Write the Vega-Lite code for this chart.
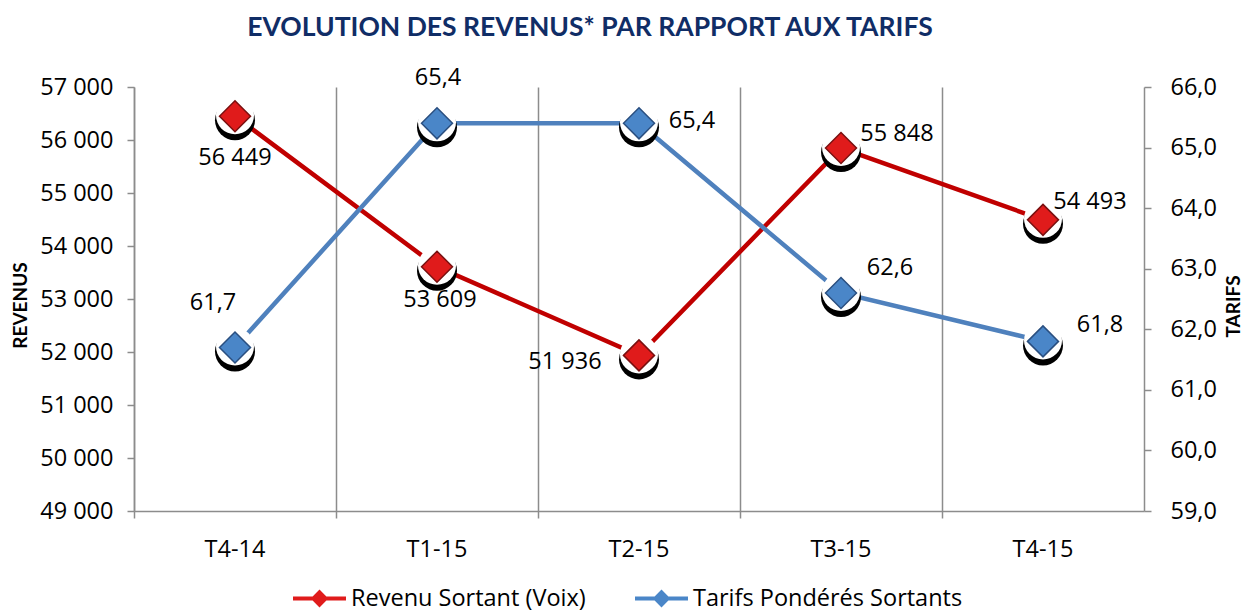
{
  "$schema": "https://vega.github.io/schema/vega-lite/v6.json",
  "width": 1010,
  "height": 424,
  "autosize": {"type": "none"},
  "padding": {"left": 134, "top": 87, "right": 100, "bottom": 100},
  "background": "white",
  "config": {
    "locale": {"number": {"decimal": ",", "thousands": " ", "grouping": [3], "currency": ["", " €"]}},
    "font": "Open Sans",
    "view": {"stroke": null}
  },
  "title": {
    "text": "EVOLUTION DES REVENUS* PAR RAPPORT AUX TARIFS",
    "font": "Lato",
    "fontSize": 26.5,
    "fontWeight": "bold",
    "color": "#102D66",
    "anchor": "middle",
    "frame": "group",
    "offset": 25,
    "dx": -49
  },
  "data": {
    "values": [
      {"q": "T4-14", "serie": "Revenu Sortant (Voix)", "val": 56449},
      {"q": "T1-15", "serie": "Revenu Sortant (Voix)", "val": 53609},
      {"q": "T2-15", "serie": "Revenu Sortant (Voix)", "val": 51936},
      {"q": "T3-15", "serie": "Revenu Sortant (Voix)", "val": 55848},
      {"q": "T4-15", "serie": "Revenu Sortant (Voix)", "val": 54493},
      {"q": "T4-14", "serie": "Tarifs Pondérés Sortants", "val": 61.7},
      {"q": "T1-15", "serie": "Tarifs Pondérés Sortants", "val": 65.4},
      {"q": "T2-15", "serie": "Tarifs Pondérés Sortants", "val": 65.4},
      {"q": "T3-15", "serie": "Tarifs Pondérés Sortants", "val": 62.6},
      {"q": "T4-15", "serie": "Tarifs Pondérés Sortants", "val": 61.8}
    ]
  },
  "encoding": {
    "x": {
      "field": "q", "type": "ordinal", "sort": null,
      "scale": {"type": "band", "paddingInner": 0, "paddingOuter": 0},
      "axis": {
        "title": null, "labelAngle": 0, "labelFontSize": 23.5, "labelColor": "black", "labelFont": "Open Sans",
        "bandPosition": 0, "grid": true, "gridColor": "#8C8C8C", "gridWidth": 1.5,
        "domainColor": "#8C8C8C", "domainWidth": 1.5, "ticks": true, "tickColor": "#8C8C8C", "tickWidth": 1.5, "tickSize": 7,
        "labelPadding": 19
      }
    }
  },
  "layer": [
    {
      "transform": [{"filter": "datum.serie == 'Revenu Sortant (Voix)'"}],
      "encoding": {
        "y": {
          "field": "val", "type": "quantitative",
          "scale": {"domain": [49000, 57000], "zero": false, "nice": false},
          "axis": {
            "orient": "left", "values": [49000, 50000, 51000, 52000, 53000, 54000, 55000, 56000, 57000],
            "format": ",d", "labelFontSize": 23.5, "labelColor": "black", "grid": false,
            "domainColor": "#8C8C8C", "domainWidth": 1.5, "tickColor": "#8C8C8C", "tickWidth": 1.5, "tickSize": 7,
            "labelPadding": 14,
            "title": "REVENUS", "titleFont": "Lato", "titleFontSize": 19, "titleFontWeight": "bold", "titleColor": "black",
            "titleAngle": -90, "titleX": -114, "titleY": 218, "titleBaseline": "middle", "titleAlign": "center"
          }
        }
      },
      "layer": [
        {"mark": {"type": "line", "color": "#C00000", "strokeWidth": 4.5}},
        {"mark": {"type": "point", "shape": "circle", "filled": true, "color": "black", "size": 1600, "opacity": 1, "yOffset": 4}},
        {"mark": {"type": "point", "shape": "circle", "filled": true, "color": "white", "size": 1444, "opacity": 1, "yOffset": -1}},
        {
          "mark": {"type": "point", "shape": "diamond", "filled": true, "size": 961, "opacity": 1, "stroke": "#7A1010", "strokeWidth": 1.5},
          "encoding": {
            "color": {
              "field": "serie", "type": "nominal",
              "scale": {"domain": ["Revenu Sortant (Voix)", "Tarifs Pondérés Sortants"], "range": ["#E01B1B", "#4A86C8"]},
              "legend": {
                "title": null, "orient": "none", "direction": "horizontal", "legendX": 159, "legendY": 485,
                "symbolType": "M-1,-0.08H-0.26L0,-0.34L0.26,-0.08H1V0.08H0.26L0,0.34L-0.26,0.08H-1Z",
                "symbolSize": 2809, "symbolStrokeWidth": 0, "symbolOpacity": 1,
                "labelFontSize": 23.5, "labelFont": "Open Sans", "labelColor": "black", "labelOffset": 5, "columnPadding": 49,
                "labelLimit": 500
              }
            }
          }
        },
        {"transform": [{"filter": "datum.q == 'T4-14'"}], "mark": {"type": "text", "fontSize": 23.5, "color": "black", "dx": 0, "dy": 42}, "encoding": {"text": {"field": "val", "type": "quantitative", "format": ",d"}}},
        {"transform": [{"filter": "datum.q == 'T1-15'"}], "mark": {"type": "text", "fontSize": 23.5, "color": "black", "dx": 3, "dy": 33}, "encoding": {"text": {"field": "val", "type": "quantitative", "format": ",d"}}},
        {"transform": [{"filter": "datum.q == 'T2-15'"}], "mark": {"type": "text", "fontSize": 23.5, "color": "black", "dx": -74, "dy": 7}, "encoding": {"text": {"field": "val", "type": "quantitative", "format": ",d"}}},
        {"transform": [{"filter": "datum.q == 'T3-15'"}], "mark": {"type": "text", "fontSize": 23.5, "color": "black", "dx": 56, "dy": -14}, "encoding": {"text": {"field": "val", "type": "quantitative", "format": ",d"}}},
        {"transform": [{"filter": "datum.q == 'T4-15'"}], "mark": {"type": "text", "fontSize": 23.5, "color": "black", "dx": 47, "dy": -18}, "encoding": {"text": {"field": "val", "type": "quantitative", "format": ",d"}}}
      ]
    },
    {
      "transform": [{"filter": "datum.serie == 'Tarifs Pondérés Sortants'"}],
      "encoding": {
        "y": {
          "field": "val", "type": "quantitative",
          "scale": {"domain": [59, 66], "zero": false, "nice": false},
          "axis": {
            "orient": "right", "values": [59, 60, 61, 62, 63, 64, 65, 66],
            "format": ".1f", "labelFontSize": 23.5, "labelColor": "black", "grid": false,
            "domainColor": "#8C8C8C", "domainWidth": 1.5, "tickColor": "#8C8C8C", "tickWidth": 1.5, "tickSize": 7,
            "labelPadding": 19,
            "title": "TARIFS", "titleFont": "Lato", "titleFontSize": 19, "titleFontWeight": "bold", "titleColor": "black",
            "titleAngle": 270, "titleX": 89, "titleY": 219, "titleBaseline": "middle", "titleAlign": "center"
          }
        }
      },
      "layer": [
        {"mark": {"type": "line", "color": "#4F81BD", "strokeWidth": 4.5}},
        {"mark": {"type": "point", "shape": "circle", "filled": true, "color": "black", "size": 1600, "opacity": 1, "yOffset": 4}},
        {"mark": {"type": "point", "shape": "circle", "filled": true, "color": "white", "size": 1444, "opacity": 1, "yOffset": -1}},
        {
          "mark": {"type": "point", "shape": "diamond", "filled": true, "size": 961, "opacity": 1, "stroke": "#2A4F80", "strokeWidth": 1.5},
          "encoding": {"color": {"field": "serie", "type": "nominal"}}
        },
        {"transform": [{"filter": "datum.q == 'T4-14'"}], "mark": {"type": "text", "fontSize": 23.5, "color": "black", "dx": -22, "dy": -44}, "encoding": {"text": {"field": "val", "type": "quantitative", "format": ".1f"}}},
        {"transform": [{"filter": "datum.q == 'T1-15'"}], "mark": {"type": "text", "fontSize": 23.5, "color": "black", "dx": 1, "dy": -45}, "encoding": {"text": {"field": "val", "type": "quantitative", "format": ".1f"}}},
        {"transform": [{"filter": "datum.q == 'T2-15'"}], "mark": {"type": "text", "fontSize": 23.5, "color": "black", "dx": 53, "dy": -2}, "encoding": {"text": {"field": "val", "type": "quantitative", "format": ".1f"}}},
        {"transform": [{"filter": "datum.q == 'T3-15'"}], "mark": {"type": "text", "fontSize": 23.5, "color": "black", "dx": 49, "dy": -25}, "encoding": {"text": {"field": "val", "type": "quantitative", "format": ".1f"}}},
        {"transform": [{"filter": "datum.q == 'T4-15'"}], "mark": {"type": "text", "fontSize": 23.5, "color": "black", "dx": 57, "dy": -16}, "encoding": {"text": {"field": "val", "type": "quantitative", "format": ".1f"}}}
      ]
    }
  ],
  "resolve": {"scale": {"y": "independent"}}
}
